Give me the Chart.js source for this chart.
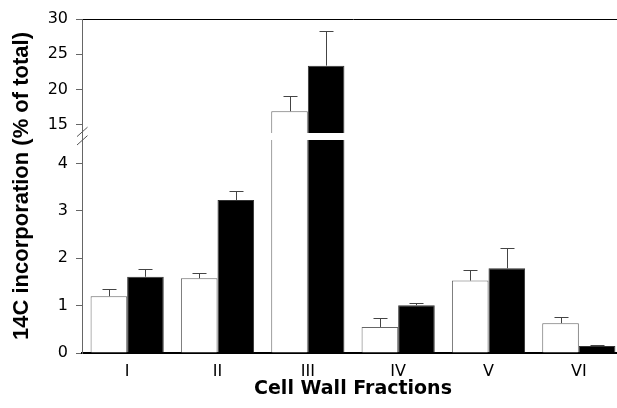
<!DOCTYPE html>
<html>
<head>
<meta charset="utf-8">
<script src="https://cdn.jsdelivr.net/npm/chart.js@4/dist/chart.umd.min.js"></script>
<style>
  html, body { margin: 0; padding: 0; background: #fff; overflow: hidden; }
  #wrap { width: 617px; height: 408px; overflow: hidden; }
  canvas { display: block; }
</style>
</head>
<body>
<div id="wrap"><canvas id="c" width="624" height="408"></canvas></div>
<script>
// ---- data ----
const categories = ['I', 'II', 'III', 'IV', 'V', 'VI'];
const whiteValues = [1.20, 1.58, 16.95, 0.55, 1.53, 0.63];
const whiteErrors = [0.15, 0.10, 2.15, 0.19, 0.22, 0.13];
const blackValues = [1.61, 3.23, 23.4, 1.01, 1.79, 0.15];
const blackErrors = [0.17, 0.19, 4.95, 0.04, 0.42, 0.02];
const upperTicks = [15, 20, 25, 30];
const lowerTicks = [0, 1, 2, 3, 4];
const upperRange = [13.41, 30];
const lowerRange = [0, 4.58];
const yTitle = '14C incorporation (% of total)';
const xTitle = 'Cell Wall Fractions';

const GAP_TOP = 3.3;   // clip margin of upper panel above the break
const GAP_BOT = 3.8;   // clip margin of lower panel below the break

const whiteStyle = { backgroundColor: '#ffffff', borderColor: '#666666', borderWidth: 1 };
const blackStyle = { backgroundColor: '#000000', borderColor: '#333333', borderWidth: 1 };

function ds(label, values, errors, axis, stack, style) {
  return Object.assign({ label, data: values, errors, yAxisID: axis, stack,
    categoryPercentage: 0.81, barPercentage: 1.0, borderSkipped: 'start' }, style);
}

const datasets = [
  ds('Control', whiteValues, whiteErrors, 'yTop', 'w', whiteStyle),
  ds('Treated', blackValues, blackErrors, 'yTop', 'b', blackStyle),
  ds('Control', whiteValues, whiteErrors, 'yBot', 'w', whiteStyle),
  ds('Treated', blackValues, blackErrors, 'yBot', 'b', blackStyle)
];

function panelClip(chart, meta) {
  const ys = meta.yScale;
  const ca = chart.chartArea;
  let top = ys.top, bottom = ys.bottom;
  if (ys.id === 'yTop') bottom = ys.bottom - GAP_TOP;
  else top = ys.top + GAP_BOT;
  return { left: ca.left - 2, right: ca.right + 2, top, bottom };
}

const brokenAxisPlugin = {
  id: 'brokenAxis',
  beforeDatasetDraw(chart, args) {
    const r = panelClip(chart, args.meta);
    const ctx = chart.ctx;
    ctx.save();
    ctx.beginPath();
    ctx.rect(r.left, r.top, r.right - r.left, r.bottom - r.top);
    ctx.clip();
  },
  afterDatasetDraw(chart, args) {
    const ctx = chart.ctx;
    const meta = args.meta;
    const dset = chart.data.datasets[args.index];
    const ys = meta.yScale;
    ctx.strokeStyle = '#444';
    ctx.lineWidth = 1;
    meta.data.forEach((el, i) => {
      const v = dset.data[i];
      const e = dset.errors[i];
      const x = Math.round(el.x) + 0.5;
      const y0 = ys.getPixelForValue(v);
      const y1 = Math.round(ys.getPixelForValue(v + e)) + 0.5;
      ctx.beginPath();
      ctx.moveTo(x, y0);
      ctx.lineTo(x, y1);
      ctx.moveTo(x - 7, y1);
      ctx.lineTo(x + 7, y1);
      ctx.stroke();
    });
    ctx.restore();
  },
  afterDraw(chart) {
    const ctx = chart.ctx;
    const yt = chart.scales.yTop;
    const x = chart.chartArea.left;
    const yc = yt.bottom;
    ctx.save();
    ctx.strokeStyle = '#555';
    ctx.lineWidth = 1;
    [-4.3, 4.1].forEach(d => {
      ctx.beginPath();
      ctx.moveTo(x - 5, yc + d + 4.7);
      ctx.lineTo(x + 5.5, yc + d - 4.7);
      ctx.stroke();
    });
    ctx.restore();
  }
};

const tickFont = { family: '"DejaVu Sans", sans-serif', size: 16 };
const Y_AXIS_W = 46.6;

new Chart(document.getElementById('c'), {
  type: 'bar',
  data: { labels: categories, datasets },
  plugins: [brokenAxisPlugin],
  options: {
    responsive: false,
    devicePixelRatio: 1,
    animation: false,
    layout: { padding: { top: 19, right: 0, bottom: 0, left: 0 } },
    plugins: {
      legend: { display: false },
      tooltip: { enabled: false },
      title: {
        display: true,
        text: yTitle,
        position: 'left',
        fullSize: false,
        color: '#000',
        font: { family: '"Liberation Sans", Arial, sans-serif', size: 22, weight: 'bold', lineHeight: 1.2 },
        padding: { top: 9, bottom: 0 }
      }
    },
    scales: {
      x: {
        type: 'category',
        offset: true,
        grid: { display: false, drawTicks: false },
        border: { display: true, color: '#000', width: 2 },
        ticks: { color: '#000', font: tickFont, padding: 9, maxRotation: 0 },
        title: {
          display: true, text: xTitle, color: '#000',
          font: { family: '"DejaVu Sans", sans-serif', size: 19, weight: 'bold', lineHeight: 1.2 },
          padding: { top: 0, bottom: 7.6 }
        },
        afterFit(s) { s.height = 55; }
      },
      yBot: {
        type: 'linear',
        position: 'left',
        stack: 'y',
        stackWeight: 216.8,
        stacked: false,
        min: lowerRange[0],
        max: lowerRange[1],
        afterBuildTicks(s) { s.ticks = lowerTicks.map(v => ({ value: v })); },
        grid: { drawOnChartArea: false, tickColor: '#666', tickLength: 6, lineWidth: 1 },
        border: { display: true, color: '#666', width: 1 },
        ticks: { color: '#000', font: tickFont, padding: 8 },
        afterFit(s) { s.width = Y_AXIS_W; }
      },
      yTop: {
        type: 'linear',
        position: 'left',
        stack: 'y',
        stackWeight: 117.2,
        stacked: false,
        min: upperRange[0],
        max: upperRange[1],
        afterBuildTicks(s) { s.ticks = upperTicks.map(v => ({ value: v })); },
        grid: {
          drawOnChartArea: true,
          color: c => (c.tick && c.tick.value === upperRange[1]) ? '#000' : 'rgba(0,0,0,0)',
          tickColor: '#666',
          tickLength: 6,
          lineWidth: 1
        },
        border: { display: true, color: '#666', width: 1 },
        ticks: { color: '#000', font: tickFont, padding: 8 },
        afterFit(s) { s.width = Y_AXIS_W; }
      }
    }
  }
});
</script>
</body>
</html>
